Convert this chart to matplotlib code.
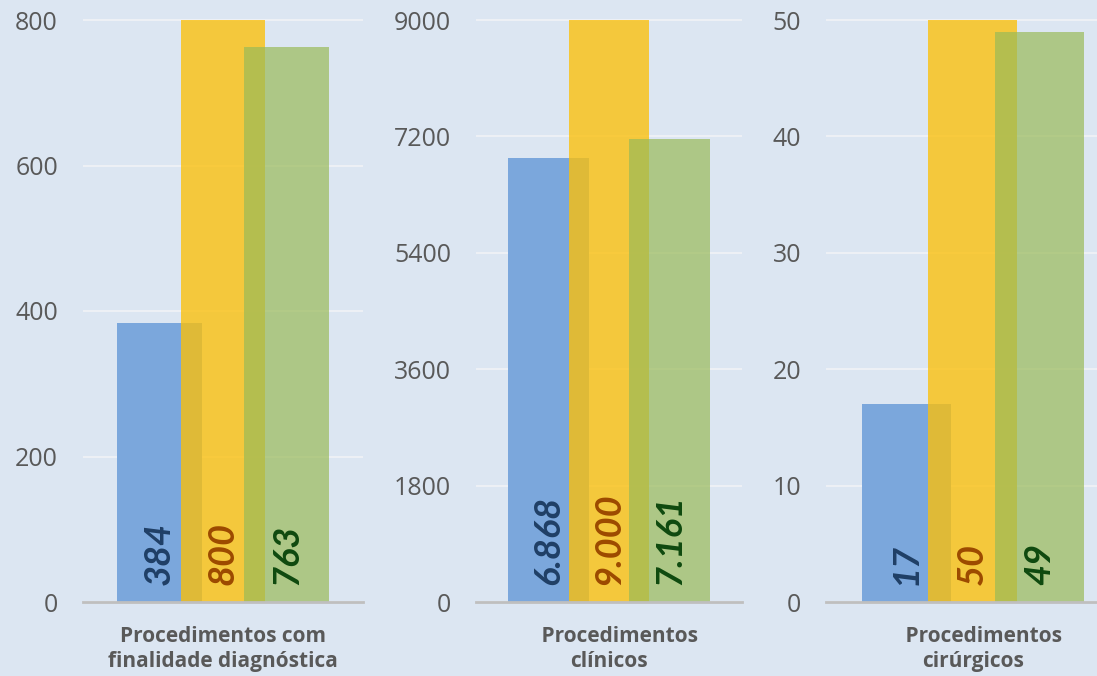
import matplotlib
matplotlib.use("Agg")
import matplotlib.pyplot as plt

# dados
categorias = ["Procedimentos com\nfinalidade diagnóstica",
              "    Procedimentos\nclínicos",
              "    Procedimentos\ncirúrgicos"]
serie_azul = [384, 6868, 17]
serie_amarela = [800, 9000, 50]
serie_verde = [763, 7161, 49]
escalas = [(800, [0, 200, 400, 600, 800]),
           (9000, [0, 1800, 3600, 5400, 7200, 9000]),
           (50, [0, 10, 20, 30, 40, 50])]

fundo = "#dce6f2"
cores = ["#7ba7dc", "#fcc009", "#99ba58"]
alfas = [1.0, 0.78, 0.7]
cores_txt = ["#1f3f66", "#9c4a00", "#0f4a0f"]

W, H = 1097, 676
fig = plt.figure(figsize=(W / 100, H / 100), dpi=100)
fig.patch.set_facecolor(fundo)

# caixas dos paineis em pixeis (esquerda, direita)
caixas = [(83, 363), (476, 742), (826, 1119.5)]
topo_px, base_px = 10, 602


def formata(v):
    return f"{v:,}".replace(",", ".")


for i, (esq, dir_) in enumerate(caixas):
    ax = fig.add_axes([esq / W, (H - base_px) / H, (dir_ - esq) / W, (base_px - topo_px) / H])
    ax.set_facecolor(fundo)
    ymax, ticks = escalas[i]
    ax.set_ylim(0, ymax * (base_px - topo_px) / (base_px - 20))
    ax.set_xlim(-1.65, 1.65)
    ax.set_yticks(ticks)
    ax.set_yticklabels([str(t) for t in ticks], fontfamily="Open Sans")
    ax.set_xticks([])
    ax.grid(axis="y", color="#f1f3f6", linewidth=1.2, zorder=0)
    ax.set_axisbelow(True)
    for s in ["top", "right", "left"]:
        ax.spines[s].set_visible(False)
    ax.spines["bottom"].set_color("#bfbfbf")
    ax.spines["bottom"].set_linewidth(2.0)
    ax.spines["bottom"].set_zorder(5)
    ax.tick_params(axis="y", length=0, pad=18, labelsize=18, labelcolor="#595959")

    valores = [serie_azul[i], serie_amarela[i], serie_verde[i]]
    for j, v in enumerate(valores):
        x = (j - 1) * 0.75
        ax.bar(x, v, width=1.0, color=cores[j], alpha=alfas[j], zorder=2 + j, linewidth=0)
        ax.annotate(formata(v), (x, 0), xytext=(0, 12), textcoords="offset points",
                    rotation=90, ha="center", va="bottom", fontsize=26,
                    fontweight="bold", fontstyle="italic", fontfamily="Lato",
                    color=cores_txt[j], zorder=10)

    ax.annotate(categorias[i], (0, 0), xytext=(0, -17), textcoords="offset points",
                ha="center", va="top", fontsize=15, fontweight="bold",
                fontfamily="Open Sans", color="#595959", linespacing=1.3,
                annotation_clip=False)

fig.savefig("out.png", dpi=100, facecolor=fundo)
